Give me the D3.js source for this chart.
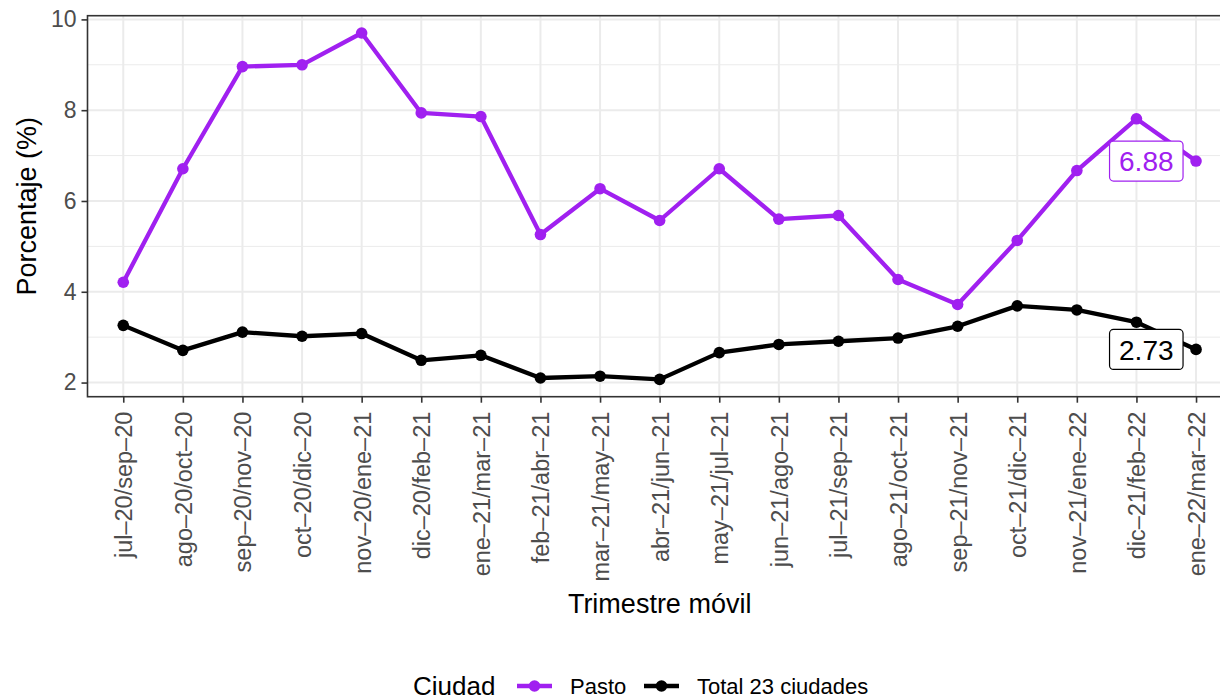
<!DOCTYPE html>
<html>
<head>
<meta charset="utf-8">
<script src="https://cdn.jsdelivr.net/npm/d3@7"></script>
<style>
  html, body { margin: 0; padding: 0; background: #fff; }
  svg { display: block; font-family: "Liberation Sans", Arial, Helvetica, sans-serif; }
</style>
</head>
<body>
<div id="chart"></div>
<script>
// Trimestre móvil – Pasto vs Total 23 ciudades
const PERIODS = [
  "jul–20/sep–20", "ago–20/oct–20", "sep–20/nov–20", "oct–20/dic–20",
  "nov–20/ene–21", "dic–20/feb–21", "ene–21/mar–21", "feb–21/abr–21",
  "mar–21/may–21", "abr–21/jun–21", "may–21/jul–21", "jun–21/ago–21",
  "jul–21/sep–21", "ago–21/oct–21", "sep–21/nov–21", "oct–21/dic–21",
  "nov–21/ene–22", "dic–21/feb–22", "ene–22/mar–22"
];
const PASTO = [4.21, 6.71, 8.96, 9.00, 9.70, 7.94, 7.86, 5.26, 6.27, 5.57,
               6.71, 5.60, 5.68, 4.27, 3.72, 5.13, 6.67, 7.81, 6.88];
const TOTAL = [3.26, 2.71, 3.11, 3.02, 3.08, 2.49, 2.60, 2.10, 2.14, 2.07,
               2.66, 2.84, 2.91, 2.98, 3.24, 3.69, 3.60, 3.33, 2.73];
const SERIES_NAMES = ["Pasto", "Total 23 ciudades"];
const SERIES_COLORS = ["#A020F0", "#000000"];
const Y_TICKS = [2, 4, 6, 8, 10];
const Y_MINOR = [3, 5, 7, 9];

const totalW = 1220, totalH = 700;
const panel = { left: 87.5, right: 1231.8, top: 15.7, bottom: 396.7 };

const svg = d3.select("#chart").append("svg")
  .attr("width", totalW).attr("height", totalH);

/* ── Scales ── */
const x = d3.scalePoint().domain(PERIODS)
  .range([panel.left, panel.right]).padding(0.6);

const allVals = PASTO.concat(TOTAL);
const [vmin, vmax] = d3.extent(allVals);
const pad = (vmax - vmin) * 0.05;
const y = d3.scaleLinear().domain([vmin - pad, vmax + pad])
  .range([panel.bottom, panel.top]);

/* ── Panel background + grid ── */
const g = svg.append("g");
g.append("rect")
  .attr("x", panel.left).attr("y", panel.top)
  .attr("width", panel.right - panel.left).attr("height", panel.bottom - panel.top)
  .attr("fill", "#fff");

g.selectAll(".ymin").data(Y_MINOR).join("line")
  .attr("x1", panel.left).attr("x2", panel.right)
  .attr("y1", d => y(d)).attr("y2", d => y(d))
  .attr("stroke", "#EBEBEB").attr("stroke-width", 1);

g.selectAll(".ymaj").data(Y_TICKS).join("line")
  .attr("x1", panel.left).attr("x2", panel.right)
  .attr("y1", d => y(d)).attr("y2", d => y(d))
  .attr("stroke", "#EBEBEB").attr("stroke-width", 2);

g.selectAll(".xmaj").data(PERIODS).join("line")
  .attr("x1", d => x(d)).attr("x2", d => x(d))
  .attr("y1", panel.top).attr("y2", panel.bottom)
  .attr("stroke", "#EBEBEB").attr("stroke-width", 2);

/* ── Lines + points ── */
const line = d3.line().x((d, i) => x(PERIODS[i])).y(d => y(d));

[PASTO, TOTAL].forEach((vals, s) => {
  g.append("path").datum(vals)
    .attr("fill", "none")
    .attr("stroke", SERIES_COLORS[s])
    .attr("stroke-width", 4.3)
    .attr("stroke-linejoin", "round")
    .attr("d", line);
  g.selectAll(null).data(vals).join("circle")
    .attr("cx", (d, i) => x(PERIODS[i]))
    .attr("cy", d => y(d))
    .attr("r", 5.8)
    .attr("fill", SERIES_COLORS[s]);
});

/* ── End labels ── */
[PASTO, TOTAL].forEach((vals, s) => {
  const last = vals[vals.length - 1];
  const px = x(PERIODS[PERIODS.length - 1]);
  const py = y(last);
  const lg = g.append("g");
  const txt = lg.append("text")
    .attr("x", px - 13 - 9.5).attr("y", py)
    .attr("dy", "0.36em")
    .attr("text-anchor", "end")
    .attr("font-size", 28)
    .attr("fill", SERIES_COLORS[s])
    .text(last.toFixed(2));
  const bb = txt.node().getBBox();
  lg.insert("rect", "text")
    .attr("x", bb.x - 9.5).attr("y", py - 20)
    .attr("width", bb.width + 19).attr("height", 40)
    .attr("rx", 4).attr("ry", 4)
    .attr("fill", "#fff")
    .attr("stroke", SERIES_COLORS[s]).attr("stroke-width", 1.2);
});

/* ── Panel border ── */
g.append("rect")
  .attr("x", panel.left).attr("y", panel.top)
  .attr("width", panel.right - panel.left).attr("height", panel.bottom - panel.top)
  .attr("fill", "none").attr("stroke", "#333333").attr("stroke-width", 1.6);

/* ── Axes ── */
svg.append("g")
  .attr("transform", `translate(${panel.left},0)`)
  .call(d3.axisLeft(y).tickValues(Y_TICKS).tickSize(6).tickPadding(5).tickFormat(d3.format("d")))
  .call(ax => ax.select(".domain").remove())
  .call(ax => ax.selectAll("line").attr("stroke", "#333333").attr("stroke-width", 1.6))
  .selectAll("text")
  .attr("font-size", 23).attr("fill", "#4D4D4D")
  .attr("font-family", "'Liberation Sans', Arial, sans-serif");

svg.append("g")
  .attr("transform", `translate(0,${panel.bottom})`)
  .call(d3.axisBottom(x).tickSize(6).tickPadding(4))
  .call(ax => ax.select(".domain").remove())
  .call(ax => ax.selectAll("line").attr("stroke", "#333333").attr("stroke-width", 1.6))
  .selectAll("text")
  .attr("font-size", 23.5).attr("fill", "#4D4D4D")
  .attr("font-family", "'Liberation Sans', Arial, sans-serif")
  .attr("transform", "rotate(-90)")
  .attr("text-anchor", "end")
  .attr("x", -15).attr("y", 0).attr("dy", "0.36em");

/* ── Axis titles ── */
svg.append("text")
  .attr("x", (panel.left + panel.right) / 2).attr("y", 613)
  .attr("text-anchor", "middle").attr("font-size", 27).attr("fill", "#000")
  .text("Trimestre móvil");

svg.append("text")
  .attr("transform", `translate(36,${(panel.top + panel.bottom) / 2}) rotate(-90)`)
  .attr("text-anchor", "middle").attr("font-size", 27).attr("fill", "#000")
  .text("Porcentaje (%)");

/* ── Legend ── */
const legend = svg.append("g").attr("transform", "translate(0,686)");
legend.append("text")
  .attr("x", 413).attr("y", 0).attr("dy", "0.34em")
  .attr("font-size", 26).attr("fill", "#000")
  .text("Ciudad");

const KEY_X = [517, 644];
const LABEL_X = [570, 697];
SERIES_NAMES.forEach((name, i) => {
  legend.append("line")
    .attr("x1", KEY_X[i]).attr("x2", KEY_X[i] + 35)
    .attr("y1", 0).attr("y2", 0)
    .attr("stroke", SERIES_COLORS[i]).attr("stroke-width", 4.3);
  legend.append("circle")
    .attr("cx", KEY_X[i] + 17.5).attr("cy", 0).attr("r", 5.8)
    .attr("fill", SERIES_COLORS[i]);
  legend.append("text")
    .attr("x", LABEL_X[i]).attr("y", 0).attr("dy", "0.36em")
    .attr("font-size", 22).attr("fill", "#000")
    .text(name);
});
</script>
</body>
</html>
